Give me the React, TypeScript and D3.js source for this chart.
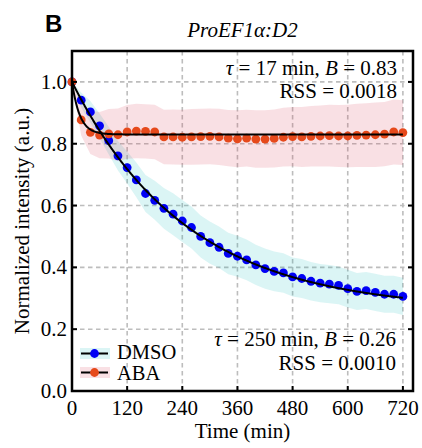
import React from 'react';
import * as d3 from 'd3';

const times = [0, 20, 40, 60, 80, 100, 120, 140, 160, 180, 200, 220, 240, 260, 280, 300, 320, 340, 360, 380, 400, 420, 440, 460, 480, 500, 520, 540, 560, 580, 600, 620, 640, 660, 680, 700, 720];

const dmso = [1.0, 0.941, 0.903, 0.858, 0.81, 0.761, 0.723, 0.683, 0.639, 0.617, 0.591, 0.572, 0.55, 0.529, 0.5, 0.48, 0.465, 0.445, 0.436, 0.424, 0.408, 0.396, 0.387, 0.382, 0.369, 0.364, 0.355, 0.349, 0.346, 0.342, 0.331, 0.322, 0.325, 0.319, 0.313, 0.313, 0.306];
const dmsoStd = [0, 0.025, 0.035, 0.04, 0.045, 0.048, 0.052, 0.056, 0.06, 0.063, 0.066, 0.068, 0.068, 0.068, 0.068, 0.068, 0.067, 0.067, 0.066, 0.066, 0.065, 0.065, 0.064, 0.064, 0.063, 0.063, 0.062, 0.062, 0.062, 0.061, 0.061, 0.06, 0.06, 0.06, 0.06, 0.06, 0.06];

const aba = [1.0, 0.877, 0.837, 0.828, 0.832, 0.829, 0.838, 0.841, 0.84, 0.838, 0.822, 0.822, 0.821, 0.822, 0.823, 0.824, 0.822, 0.818, 0.816, 0.818, 0.815, 0.815, 0.817, 0.821, 0.823, 0.822, 0.824, 0.825, 0.826, 0.825, 0.825, 0.827, 0.828, 0.829, 0.831, 0.838, 0.836];
const abaStd = [0, 0.05, 0.07, 0.075, 0.08, 0.085, 0.087, 0.088, 0.088, 0.088, 0.088, 0.089, 0.089, 0.09, 0.09, 0.09, 0.091, 0.091, 0.092, 0.092, 0.093, 0.093, 0.094, 0.095, 0.096, 0.097, 0.098, 0.099, 0.1, 0.1, 0.101, 0.102, 0.103, 0.104, 0.104, 0.105, 0.105];

const fitDmso = { tau: 250, B: 0.26 };
const fitAba = { tau: 17, B: 0.83 };

const xTicks = [0, 120, 240, 360, 480, 600, 720];
const yTicks = [0.0, 0.2, 0.4, 0.6, 0.8, 1.0];

const W = 422, H = 448;
const L = 72, R = 413, T = 51, B = 391;

const SERIF = "'Liberation Serif', 'Times New Roman', serif";
const FS = 21;

function T_({ children, style, ...rest }: any) {
  return <text {...rest} style={{ fontFamily: SERIF, fontSize: FS, ...(style || {}) }}>{children}</text>;
}

export default function App() {
  const x = d3.scaleLinear().domain([0, 742]).range([L, R]);
  const y = d3.scaleLinear().domain([0, 1.1]).range([B, T]);

  const band = (mean: number[], sd: number[]) =>
    d3.area<number>()
      .x((_, i) => x(times[i]))
      .y0((d, i) => y(d - sd[i]))
      .y1((d, i) => y(d + sd[i]))(mean) as string;

  const fitT = d3.range(0, 720.5, 1);
  const fitLine = (p: { tau: number; B: number }) =>
    d3.line<number>()
      .x(t => x(t))
      .y(t => y(p.B + (1 - p.B) * Math.exp(-t / p.tau)))(fitT) as string;

  const cyan = 'rgba(0,185,185,0.14)';
  const pink = 'rgba(220,60,90,0.16)';
  const blue = '#0000f5';
  const orange = '#e6491b';

  return (
    <svg width={W} height={H} style={{ position: 'absolute', left: 0, top: 0, background: '#fff' }}>
      {/* grid */}
      {xTicks.map(t => (
        <line key={'gx' + t} x1={x(t)} x2={x(t)} y1={T} y2={B} stroke="#bdbdbd" strokeWidth={1.6} strokeDasharray="4.5,3.5" />
      ))}
      {yTicks.map(t => (
        <line key={'gy' + t} x1={L} x2={R} y1={y(t)} y2={y(t)} stroke="#bdbdbd" strokeWidth={1.6} strokeDasharray="4.5,3.5" />
      ))}
      {/* bands */}
      <path d={band(dmso, dmsoStd)} fill={cyan} />
      <path d={band(aba, abaStd)} fill={pink} />
      {/* points */}
      {dmso.map((v, i) => (
        <circle key={'d' + i} cx={x(times[i])} cy={y(v)} r={4.4} fill={blue} />
      ))}
      {aba.map((v, i) => (
        <circle key={'a' + i} cx={x(times[i])} cy={y(v)} r={4.4} fill={orange} />
      ))}
      {/* fits */}
      <path d={fitLine(fitDmso)} fill="none" stroke="#000" strokeWidth={2} />
      <path d={fitLine(fitAba)} fill="none" stroke="#000" strokeWidth={2} />
      {/* frame */}
      <rect x={L} y={T} width={R - L} height={B - T} fill="none" stroke="#000" strokeWidth={2.5} />
      {/* ticks */}
      {xTicks.map(t => (
        <line key={'tx' + t} x1={x(t)} x2={x(t)} y1={B} y2={B - 5} stroke="#000" strokeWidth={2} />
      ))}
      {yTicks.map(t => (
        <g key={'ty' + t}>
          <line x1={L} x2={L + 5} y1={y(t)} y2={y(t)} stroke="#000" strokeWidth={2} />
          <line x1={R} x2={R - 5} y1={y(t)} y2={y(t)} stroke="#000" strokeWidth={2} />
        </g>
      ))}
      {/* tick labels */}
      {xTicks.map(t => (
        <T_ key={'lx' + t} x={x(t)} y={415} textAnchor="middle">{String(t)}</T_>
      ))}
      {yTicks.map(t => (
        <T_ key={'ly' + t} x={67} y={y(t) + 7} textAnchor="end">{t.toFixed(1)}</T_>
      ))}
      {/* axis labels */}
      <T_ x={(L + R) / 2} y={438} textAnchor="middle">Time (min)</T_>
      <T_ transform={`translate(29,${(T + B) / 2}) rotate(-90)`} textAnchor="middle">Normalized intensity (a.u.)</T_>
      {/* title */}
      <T_ x={(L + R) / 2} y={37} textAnchor="middle" style={{ fontStyle: 'italic' }}>ProEF1α:D2</T_>
      <text x={45} y={32} style={{ fontFamily: "'Liberation Sans', Arial, sans-serif", fontSize: 24, fontWeight: 'bold' }}>B</text>
      {/* annotations */}
      <T_ x={397} y={75} textAnchor="end">
        <tspan style={{ fontStyle: 'italic' }}>τ</tspan> = 17 min, <tspan style={{ fontStyle: 'italic' }}>B</tspan> = 0.83
      </T_>
      <T_ x={397} y={98} textAnchor="end">RSS = 0.0018</T_>
      <T_ x={396} y={346} textAnchor="end">
        <tspan style={{ fontStyle: 'italic' }}>τ</tspan> = 250 min, <tspan style={{ fontStyle: 'italic' }}>B</tspan> = 0.26
      </T_>
      <T_ x={396} y={370} textAnchor="end">RSS = 0.0010</T_>
      {/* legend */}
      <g>
        <rect x={80} y={348} width={30} height={11} fill={cyan} />
        <line x1={81} x2={108} y1={353.5} y2={353.5} stroke="#000" strokeWidth={2} />
        <circle cx={94.5} cy={353.5} r={4.4} fill={blue} />
        <T_ x={117} y={358.5} style={{ fontSize: 20.5 }}>DMSO</T_>
        <rect x={80} y={367} width={30} height={11} fill={pink} />
        <line x1={81} x2={108} y1={372.5} y2={372.5} stroke="#000" strokeWidth={2} />
        <circle cx={94.5} cy={372.5} r={4.4} fill={orange} />
        <T_ x={117} y={380} style={{ fontSize: 20.5 }}>ABA</T_>
      </g>
    </svg>
  );
}
